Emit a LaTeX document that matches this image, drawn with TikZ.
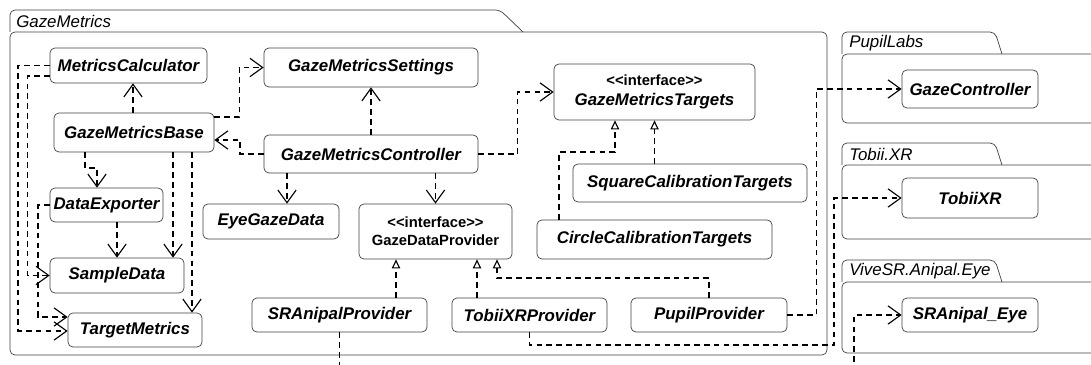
\documentclass[tikz,border=0pt]{standalone}
\usepackage{fontspec}
\setmainfont{Liberation Sans}
\usetikzlibrary{arrows.meta}

\tikzset{
	cls/.style={draw=black!75, line width=0.5pt, rounded corners=3.5pt, fill=white, inner sep=0pt,
		font=\fontsize{12}{14}\selectfont\bfseries\itshape},
	iface/.style={cls, align=center},
	stereo/.style={font=\fontsize{10.5}{13}\selectfont\bfseries\upshape},
	pkg/.style={draw=black!75, line width=0.5pt, rounded corners=3.5pt},
	pkglabel/.style={anchor=west, inner sep=0pt, font=\fontsize{12}{14}\selectfont\itshape},
	dep/.style={line width=0.9pt, dash pattern=on 4pt off 3pt,
		-{Straight Barb[length=9pt,width=13pt,line width=0.8pt]}},
	impl/.style={line width=0.9pt, dash pattern=on 4pt off 3pt,
		-{Triangle[open,length=6.5pt,width=6pt,line width=0.8pt,fill=white]}}
}

\begin{document}
\begin{tikzpicture}[x=0.025cm, y=-0.025cm]
	\useasboundingbox (0,0) rectangle (1091,365);
	\clip (0,0) rectangle (1091,365);

	% packages
	\draw[pkg] (10,32) -- (10,10) -- (500,10) -- (523,32);
	\draw[pkg] (10,32) rectangle (827,355);
	\node[pkglabel] (lblmetrics) at (16,21) {GazeMetrics};

	\draw[pkg] (842,54) -- (842,32) -- (995,32) -- (1002,54);
	\draw[pkg] (842,54) rectangle (1120,123);
	\node[pkglabel] (lblpupil) at (849,43) {PupilLabs};

	\draw[pkg] (842,165) -- (842,143) -- (995,143) -- (1002,165);
	\draw[pkg] (842,165) rectangle (1120,239);
	\node[pkglabel] (lbltobii) at (849,154) {Tobii.XR};

	\draw[pkg] (842,282) -- (842,260) -- (995,260) -- (1002,282);
	\draw[pkg] (842,282) rectangle (1120,353);
	\node[pkglabel] (lblvive) at (849,271) {ViveSR.Anipal.Eye};

	% classes
	\node[cls, minimum width=3.925cm, minimum height=0.875cm] (calc) at (128.5,65.5) {MetricsCalculator};
	\node[cls, minimum width=4cm, minimum height=0.975cm] (base) at (134,132.5) {GazeMetricsBase};
	\node[cls, minimum width=2.825cm, minimum height=0.85cm] (exporter) at (106.5,205) {DataExporter};
	\node[cls, minimum width=3.35cm, minimum height=0.875cm] (sample) at (117,275.5) {SampleData};
	\node[cls, minimum width=3.35cm, minimum height=0.85cm] (tmetrics) at (135,330) {TargetMetrics};

	\node[cls, minimum width=5.35cm, minimum height=0.975cm] (settings) at (371,67.5) {GazeMetricsSettings};
	\node[cls, minimum width=5.35cm, minimum height=0.95cm] (controller) at (371,154) {GazeMetricsController};
	\node[cls, minimum width=3.4cm, minimum height=0.875cm] (eyegaze) at (271,221.5) {EyeGazeData};
	\node[iface, stereo, minimum width=3.825cm, minimum height=1.375cm] (provider) at (435.5,231.5)
		{<{}<interface>{}>\\GazeDataProvider};

	\node[iface, minimum width=5.025cm, minimum height=1.4cm] (targets) at (654.5,92)
		{{\fontsize{10.5}{13}\selectfont\upshape <{}<interface>{}>}\\GazeMetricsTargets};
	\node[cls, minimum width=5.85cm, minimum height=0.95cm] (square) at (690,183) {SquareCalibrationTargets};
	\node[cls, minimum width=5.875cm, minimum height=0.975cm] (circle) at (654.5,239.5) {CircleCalibrationTargets};

	\node[cls, minimum width=4.375cm, minimum height=0.85cm] (srprov) at (339.5,315) {SRAnipalProvider};
	\node[cls, minimum width=3.875cm, minimum height=0.85cm] (tobprov) at (529.5,315) {TobiiXRProvider};
	\node[cls, minimum width=3.9cm, minimum height=0.85cm] (pupprov) at (709,315) {PupilProvider};

	\node[cls, minimum width=3.4cm, minimum height=0.95cm] (gazectrl) at (970,89) {GazeController};
	\node[cls, minimum width=3.4cm, minimum height=1cm] (tobiixr) at (970,198) {TobiiXR};
	\node[cls, minimum width=3.4cm, minimum height=0.85cm] (sreye) at (970,315) {SRAnipal\_Eye};

	% dependencies
	\draw[dep] (base.north -| 133,0) -- (calc.south -| 133,0);
	\draw[dep] (base.east |- 0,117) -- ++(25,0) |- (settings.west);
	\draw[dep] (controller.west) -| (240,140) -- (base.east |- 0,140);
	\draw[dep] (controller.north) -- (settings.south);
	\draw[dep] (controller.east) -- ++(39,0) |- (targets.west);
	\draw[dep] (controller.south -| 287,0) -- (eyegaze.north -| 287,0);
	\draw[dep] (controller.south -| provider.north) -- (provider.north);

	\draw[dep] (calc.west) -| (18,331) -- (tmetrics.west |- 0,331);
	\draw[dep] (calc.west |- 0,76) -- ++(-22,0) |- (sample.west);
	\draw[dep] (exporter.west) -| (38,317) -- (tmetrics.west |- 0,317);
	\draw[dep] (exporter.south -| sample.north) -- (sample.north);
	\draw[dep] (base.south -| 85,0) |- (97,168) -- (exporter.north -| 97,0);
	\draw[dep] (base.south -| 173,0) -- (sample.north -| 173,0);
	\draw[dep] (base.south -| 192,0) -- (tmetrics.north -| 192,0);

	\draw[dep] (pupprov.east) -- ++(29,0) |- (gazectrl.west);
	\draw[dep] (tobprov.south) |- (834,345) |- (tobiixr.west);
	\draw[dep] (srprov.south) |- (854,390) |- (sreye.west);

	% realizations
	\draw[impl] (srprov.north -| 396,0) -- (provider.south -| 396,0);
	\draw[impl] (tobprov.north -| 477,0) -- (provider.south -| 477,0);
	\draw[impl] (pupprov.north) |- (497,278) -- (provider.south -| 497,0);
	\draw[impl] (square.north -| targets.south) -- (targets.south);
	\draw[impl] (circle.north -| 559,0) |- (615,152) -- (targets.south -| 615,0);

\end{tikzpicture}
\end{document}
